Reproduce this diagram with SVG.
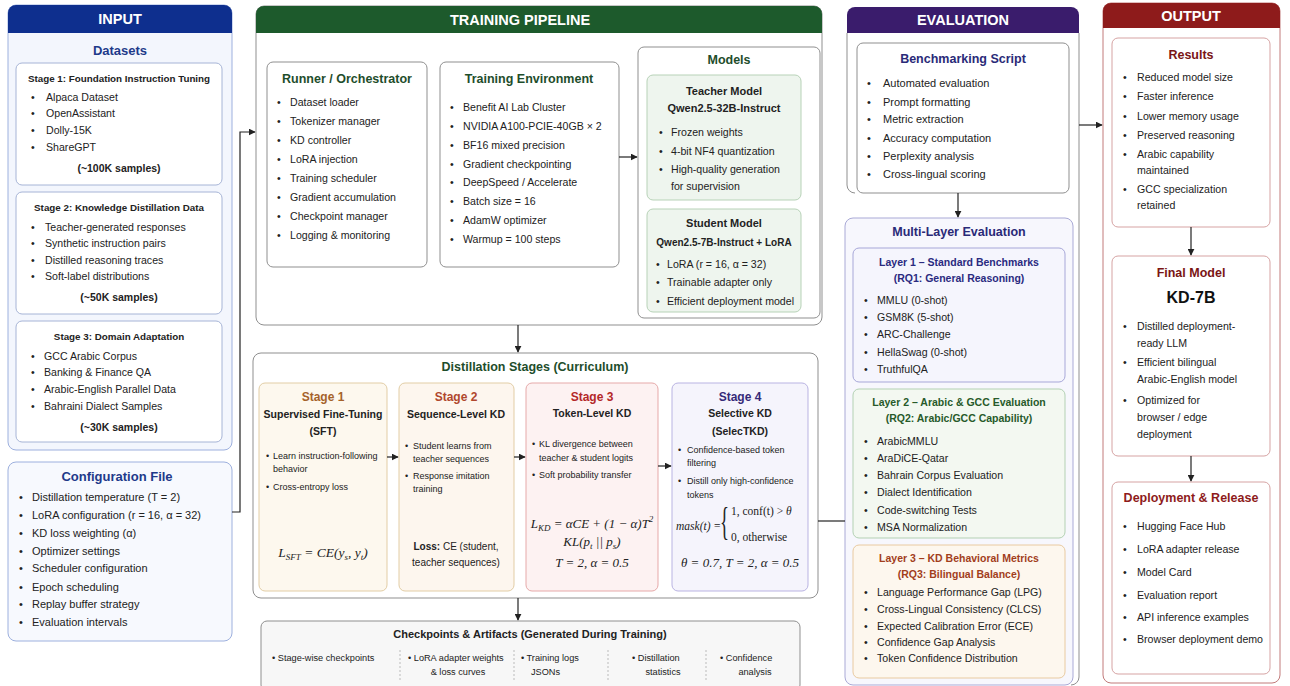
<svg xmlns="http://www.w3.org/2000/svg" width="1290" height="686" viewBox="0 0 1290 686">
<defs>
<marker id="ah" viewBox="0 0 10 10" refX="9" refY="5" markerWidth="7" markerHeight="7" orient="auto" markerUnits="userSpaceOnUse"><path d="M0,0 L10,5 L0,10 z" fill="#222"/></marker>
<style>
text{font-family:'Liberation Sans',Arial,sans-serif;fill:#222}
.hd{font-size:14.5px;font-weight:700;fill:#fff;text-anchor:middle}
.st{font-size:12.5px;font-weight:700;text-anchor:middle}
.sb{font-size:10px;font-weight:700;text-anchor:middle}
.b{font-size:10.6px}
.bc{font-size:11px}
.s{font-size:9px}
.k{font-size:9.2px}
.c{text-anchor:middle}
.m{font-family:'Liberation Serif','DejaVu Serif',serif;font-style:italic;font-size:13.5px}
.mu{font-family:'Liberation Serif','DejaVu Serif',serif;font-size:12.5px}
.bx{fill:#fff;stroke:#8f8f8f;stroke-width:1}
.conn{fill:none;stroke:#222;stroke-width:1.2}
.sep{stroke:#bbb;stroke-width:1;stroke-dasharray:2 2}
</style>
</defs>
<rect width="1290" height="686" fill="#fff"/>

<!-- INPUT -->
<g id="input-panel">
<rect x="8" y="5" width="224" height="445" rx="8" fill="#f3f6fd" stroke="#9db0de"/>
<path d="M8,33 V13 a8,8 0 0 1 8,-8 H224 a8,8 0 0 1 8,8 V33 z" fill="#0e2f8e"/>
<text class="hd" x="120" y="24">INPUT</text>
<text class="st" x="120" y="55" style="font-size:13px;fill:#1e3a8a">Datasets</text>
</g>
<g id="stage1-data">
<rect x="16" y="63" width="206" height="122" rx="6" fill="#fff" stroke="#a6b4d6"/>
<text class="sb" x="119" y="82" style="font-size:9.8px">Stage 1: Foundation Instruction Tuning</text>
<text class="b" x="31" y="101">•<tspan x="46">Alpaca Dataset</tspan></text>
<text class="b" x="31" y="117">•<tspan x="46">OpenAssistant</tspan></text>
<text class="b" x="31" y="134">•<tspan x="46">Dolly-15K</tspan></text>
<text class="b" x="31" y="151">•<tspan x="46">ShareGPT</tspan></text>
<text class="sb" x="119" y="172" style="font-size:10.5px">(~100K samples)</text>
</g>
<g id="stage2-data">
<rect x="16" y="192" width="206" height="122" rx="6" fill="#fff" stroke="#a6b4d6"/>
<text class="sb" x="119" y="211" style="font-size:9.8px">Stage 2: Knowledge Distillation Data</text>
<text class="b" x="31" y="231">•<tspan x="45">Teacher-generated responses</tspan></text>
<text class="b" x="31" y="247">•<tspan x="45">Synthetic instruction pairs</tspan></text>
<text class="b" x="31" y="264">•<tspan x="45">Distilled reasoning traces</tspan></text>
<text class="b" x="31" y="280">•<tspan x="45">Soft-label distributions</tspan></text>
<text class="sb" x="119" y="301" style="font-size:10.5px">(~50K samples)</text>
</g>
<g id="stage3-data">
<rect x="16" y="321" width="206" height="121" rx="6" fill="#fff" stroke="#a6b4d6"/>
<text class="sb" x="119" y="340" style="font-size:9.8px">Stage 3: Domain Adaptation</text>
<text class="b" x="31" y="360">•<tspan x="44">GCC Arabic Corpus</tspan></text>
<text class="b" x="31" y="376">•<tspan x="44">Banking &amp; Finance QA</tspan></text>
<text class="b" x="31" y="393">•<tspan x="44">Arabic-English Parallel Data</tspan></text>
<text class="b" x="31" y="410">•<tspan x="44">Bahraini Dialect Samples</tspan></text>
<text class="sb" x="119" y="431" style="font-size:10.5px">(~30K samples)</text>
</g>
<g id="config">
<rect x="8" y="462" width="224" height="179" rx="8" fill="#f7f9fe" stroke="#9db0de"/>
<text class="st" x="117" y="481" style="font-size:13px;fill:#1e3a8a">Configuration File</text>
<text class="bc" x="19" y="501">•<tspan x="32">Distillation temperature (T = 2)</tspan></text>
<text class="bc" x="19" y="519">•<tspan x="32">LoRA configuration (r = 16, α = 32)</tspan></text>
<text class="bc" x="19" y="537">•<tspan x="32">KD loss weighting (α)</tspan></text>
<text class="bc" x="19" y="555">•<tspan x="32">Optimizer settings</tspan></text>
<text class="bc" x="19" y="572">•<tspan x="32">Scheduler configuration</tspan></text>
<text class="bc" x="19" y="591">•<tspan x="32">Epoch scheduling</tspan></text>
<text class="bc" x="19" y="608">•<tspan x="32">Replay buffer strategy</tspan></text>
<text class="bc" x="19" y="626">•<tspan x="32">Evaluation intervals</tspan></text>
</g>

<!-- TRAINING PIPELINE -->
<g id="training-pipeline">
<rect x="256" y="6" width="566" height="319" rx="8" class="bx"/>
<path d="M256,33 V14 a8,8 0 0 1 8,-8 H814 a8,8 0 0 1 8,8 V33 z" fill="#1d5a2c"/>
<text class="hd" x="520" y="25">TRAINING PIPELINE</text>
</g>
<g id="runner">
<rect x="267" y="62" width="160" height="205" rx="6" class="bx"/>
<text class="st" x="347" y="83" style="fill:#1e4d2b">Runner / Orchestrator</text>
<text class="b" x="277" y="106">•<tspan x="290">Dataset loader</tspan></text>
<text class="b" x="277" y="125">•<tspan x="290">Tokenizer manager</tspan></text>
<text class="b" x="277" y="144">•<tspan x="290">KD controller</tspan></text>
<text class="b" x="277" y="163">•<tspan x="290">LoRA injection</tspan></text>
<text class="b" x="277" y="182">•<tspan x="290">Training scheduler</tspan></text>
<text class="b" x="277" y="201">•<tspan x="290">Gradient accumulation</tspan></text>
<text class="b" x="277" y="220">•<tspan x="290">Checkpoint manager</tspan></text>
<text class="b" x="277" y="239">•<tspan x="290">Logging &amp; monitoring</tspan></text>
</g>
<g id="training-env">
<rect x="440" y="62" width="179" height="205" rx="6" class="bx"/>
<text class="st" x="529" y="83" style="fill:#1e4d2b">Training Environment</text>
<text class="b" x="450" y="111">•<tspan x="463">Benefit AI Lab Cluster</tspan></text>
<text class="b" x="450" y="130">•<tspan x="463">NVIDIA A100-PCIE-40GB × 2</tspan></text>
<text class="b" x="450" y="149">•<tspan x="463">BF16 mixed precision</tspan></text>
<text class="b" x="450" y="168">•<tspan x="463">Gradient checkpointing</tspan></text>
<text class="b" x="450" y="186">•<tspan x="463">DeepSpeed / Accelerate</tspan></text>
<text class="b" x="450" y="205">•<tspan x="463">Batch size = 16</tspan></text>
<text class="b" x="450" y="224">•<tspan x="463">AdamW optimizer</tspan></text>
<text class="b" x="450" y="243">•<tspan x="463">Warmup = 100 steps</tspan></text>
</g>
<g id="models">
<rect x="638" y="47" width="182" height="271" rx="6" class="bx"/>
<text class="st" x="729" y="64" style="fill:#1e4d2b">Models</text>
<rect x="647" y="75" width="154" height="125" rx="6" fill="#eef5ee" stroke="#b7d2b7"/>
<text class="sb" x="724" y="95" style="font-size:11px">Teacher Model</text>
<text class="sb" x="724" y="112" style="font-size:11px">Qwen2.5-32B-Instruct</text>
<text class="b" x="659" y="136">•<tspan x="671">Frozen weights</tspan></text>
<text class="b" x="659" y="155">•<tspan x="671">4-bit NF4 quantization</tspan></text>
<text class="b" x="659" y="173">•<tspan x="671">High-quality generation</tspan></text>
<text class="b" x="671" y="190">for supervision</text>
<rect x="647" y="209" width="154" height="103" rx="6" fill="#eef5ee" stroke="#b7d2b7"/>
<text class="sb" x="724" y="227" style="font-size:11px">Student Model</text>
<text class="sb" x="724" y="246">Qwen2.5-7B-Instruct + LoRA</text>
<text class="b" x="656" y="268">•<tspan x="667">LoRA (r = 16, α = 32)</tspan></text>
<text class="b" x="656" y="286">•<tspan x="667">Trainable adapter only</tspan></text>
<text class="b" x="656" y="305">•<tspan x="667">Efficient deployment model</tspan></text>
</g>

<!-- DISTILLATION STAGES -->
<g id="distillation-stages">
<rect x="253" y="353" width="565" height="245" rx="8" class="bx"/>
<text class="st" x="535" y="371" style="fill:#1e4d2b">Distillation Stages (Curriculum)</text>
</g>
<g id="stage-1">
<rect x="259" y="383" width="128" height="208" rx="6" fill="#fdf8ee" stroke="#e2cda5"/>
<text class="st" x="323" y="401" style="fill:#a5622a;font-size:12px">Stage 1</text>
<text class="sb" x="323" y="418" style="font-size:10.5px">Supervised Fine-Tuning</text>
<text class="sb" x="323" y="435" style="font-size:10.5px">(SFT)</text>
<text class="s" x="266" y="459">•<tspan x="273">Learn instruction-following</tspan></text>
<text class="s" x="273" y="472">behavior</text>
<text class="s" x="266" y="490">•<tspan x="273">Cross-entropy loss</tspan></text>
<text class="m" x="323" y="557" text-anchor="middle">L<tspan font-size="9" dy="3">SFT</tspan><tspan dy="-3"> = CE(y</tspan><tspan font-size="9" dy="3">s</tspan><tspan dy="-3">, y</tspan><tspan font-size="9" dy="3">t</tspan><tspan dy="-3">)</tspan></text>
</g>
<g id="stage-2">
<rect x="399" y="383" width="115" height="208" rx="6" fill="#fdf6ee" stroke="#e2cda5"/>
<text class="st" x="456" y="401" style="fill:#b0472d;font-size:12px">Stage 2</text>
<text class="sb" x="456" y="418" style="font-size:10.5px">Sequence-Level KD</text>
<text class="s" x="405" y="449">•<tspan x="413">Student learns from</tspan></text>
<text class="s" x="413" y="462">teacher sequences</text>
<text class="s" x="405" y="479">•<tspan x="413">Response imitation</tspan></text>
<text class="s" x="413" y="492">training</text>
<text x="456" y="550" class="c" style="font-size:10px"><tspan font-weight="700">Loss:</tspan> CE (student,</text>
<text x="456" y="566" class="c" style="font-size:10px">teacher sequences)</text>
</g>
<g id="stage-3">
<rect x="526" y="383" width="132" height="208" rx="6" fill="#fdf2f2" stroke="#e6a9a9"/>
<text class="st" x="592" y="401" style="fill:#b42828;font-size:12px">Stage 3</text>
<text class="sb" x="592" y="417" style="font-size:10.5px">Token-Level KD</text>
<text class="s" x="532" y="447">•<tspan x="539">KL divergence between</tspan></text>
<text class="s" x="539" y="461">teacher &amp; student logits</text>
<text class="s" x="532" y="478">•<tspan x="539">Soft probability transfer</tspan></text>
<text class="m" x="592" y="528" text-anchor="middle" style="font-size:13px">L<tspan font-size="9" dy="3">KD</tspan><tspan dy="-3"> = αCE + (1 − α)T</tspan><tspan font-size="9" dy="-6">2</tspan></text>
<text class="m" x="592" y="546" text-anchor="middle" style="font-size:13px">KL(p<tspan font-size="9" dy="3">t</tspan><tspan dy="-3"> || p</tspan><tspan font-size="9" dy="3">s</tspan><tspan dy="-3">)</tspan></text>
<text class="m" x="592" y="567" text-anchor="middle" style="font-size:13px">T = 2, α = 0.5</text>
</g>
<g id="stage-4">
<rect x="672" y="383" width="136" height="208" rx="6" fill="#f5f4fc" stroke="#b9b3e2"/>
<text class="st" x="740" y="401" style="fill:#352a78;font-size:12px">Stage 4</text>
<text class="sb" x="740" y="417" style="font-size:10.5px">Selective KD</text>
<text class="sb" x="740" y="435" style="font-size:10.5px">(SelecTKD)</text>
<text class="s" x="678" y="453">•<tspan x="687">Confidence-based token</tspan></text>
<text class="s" x="687" y="466">filtering</text>
<text class="s" x="678" y="484">•<tspan x="687">Distill only high-confidence</tspan></text>
<text class="s" x="687" y="498">tokens</text>
<text class="m" x="676" y="530" style="font-size:11.5px">mask(t) =</text>
<text class="mu" transform="translate(720,535) scale(0.55,1.15)" style="font-size:34px">{</text>
<text class="mu" x="731" y="515" style="font-size:11.5px">1,  conf(t) &gt; <tspan font-style="italic">θ</tspan></text>
<text class="mu" x="731" y="541" style="font-size:11.5px">0,  otherwise</text>
<text class="m" x="740" y="567" text-anchor="middle" style="font-size:13px">θ = 0.7,  T = 2,  α = 0.5</text>
</g>

<!-- CHECKPOINTS -->
<g id="checkpoints">
<rect x="261" y="621" width="539" height="70" rx="6" fill="#f7f7f7" stroke="#8f8f8f"/>
<text x="530" y="638" class="c" style="font-size:11px;font-weight:700">Checkpoints &amp; Artifacts (Generated During Training)</text>
<text class="k" x="272" y="661">•  Stage-wise checkpoints</text>
<line class="sep" x1="400" y1="650" x2="400" y2="680"/>
<text class="k" x="408" y="661">•  LoRA adapter weights</text>
<text class="k c" x="458" y="675">&amp; loss curves</text>
<line class="sep" x1="514" y1="650" x2="514" y2="680"/>
<text class="k" x="521" y="661">•  Training logs</text>
<text class="k" x="531" y="675">JSONs</text>
<line class="sep" x1="608" y1="650" x2="608" y2="680"/>
<text class="k" x="632" y="661">•  Distillation</text>
<text class="k c" x="663" y="675">statistics</text>
<line class="sep" x1="706" y1="650" x2="706" y2="680"/>
<text class="k" x="720" y="661">•  Confidence</text>
<text class="k c" x="755" y="675">analysis</text>
</g>

<!-- EVALUATION -->
<g id="evaluation-panel">
<path d="M847,33 V185 a8,8 0 0 0 8,8" fill="none" stroke="#8f8f8f"/>
<path d="M1079,33 V677 a8,8 0 0 1 -8,8" fill="none" stroke="#8f8f8f"/>
<path d="M847,33 V15 a8,8 0 0 1 8,-8 H1071 a8,8 0 0 1 8,8 V33 z" fill="#3a1c6c"/>
<text class="hd" x="963" y="25">EVALUATION</text>
</g>
<g id="benchmarking">
<rect x="857" y="43" width="212" height="150" rx="6" class="bx"/>
<text class="st" x="963" y="63" style="fill:#2a2a78">Benchmarking Script</text>
<text class="bc" x="867" y="87">•<tspan x="883">Automated evaluation</tspan></text>
<text class="bc" x="867" y="106">•<tspan x="883">Prompt formatting</tspan></text>
<text class="bc" x="867" y="123">•<tspan x="883">Metric extraction</tspan></text>
<text class="bc" x="867" y="142">•<tspan x="883">Accuracy computation</tspan></text>
<text class="bc" x="867" y="160">•<tspan x="883">Perplexity analysis</tspan></text>
<text class="bc" x="867" y="178">•<tspan x="883">Cross-lingual scoring</tspan></text>
</g>
<g id="multi-layer">
<rect x="845" y="218" width="228" height="467" rx="8" fill="#f7f7fd" stroke="#a9a9d6"/>
<text class="st" x="959" y="236" style="fill:#2a2a78">Multi-Layer Evaluation</text>
</g>
<g id="layer-1">
<rect x="853" y="248" width="212" height="134" rx="6" fill="#f5f5fd" stroke="#a7a7d8"/>
<text class="sb" x="959" y="266" style="font-size:10.5px;fill:#2a2a80">Layer 1 – Standard Benchmarks</text>
<text class="sb" x="959" y="282" style="font-size:10.5px;fill:#2a2a80">(RQ1: General Reasoning)</text>
<text class="b" x="864" y="304">•<tspan x="877">MMLU (0-shot)</tspan></text>
<text class="b" x="864" y="321">•<tspan x="877">GSM8K (5-shot)</tspan></text>
<text class="b" x="864" y="338">•<tspan x="877">ARC-Challenge</tspan></text>
<text class="b" x="864" y="356">•<tspan x="877">HellaSwag (0-shot)</tspan></text>
<text class="b" x="864" y="373">•<tspan x="877">TruthfulQA</tspan></text>
</g>
<g id="layer-2">
<rect x="853" y="389" width="212" height="149" rx="6" fill="#f3f8f1" stroke="#b3d1b3"/>
<text class="sb" x="959" y="406" style="font-size:10.5px;fill:#275a2a">Layer 2 – Arabic &amp; GCC Evaluation</text>
<text class="sb" x="959" y="422" style="font-size:10.5px;fill:#275a2a">(RQ2: Arabic/GCC Capability)</text>
<text class="b" x="864" y="445">•<tspan x="877">ArabicMMLU</tspan></text>
<text class="b" x="864" y="462">•<tspan x="877">AraDiCE-Qatar</tspan></text>
<text class="b" x="864" y="479">•<tspan x="877">Bahrain Corpus Evaluation</tspan></text>
<text class="b" x="864" y="496">•<tspan x="877">Dialect Identification</tspan></text>
<text class="b" x="864" y="514">•<tspan x="877">Code-switching Tests</tspan></text>
<text class="b" x="864" y="531">•<tspan x="877">MSA Normalization</tspan></text>
</g>
<g id="layer-3">
<rect x="853" y="545" width="212" height="133" rx="6" fill="#fdf7ee" stroke="#e9caa0"/>
<text class="sb" x="959" y="562" style="font-size:10.5px;fill:#a23e1c">Layer 3 – KD Behavioral Metrics</text>
<text class="sb" x="959" y="578" style="font-size:10.5px;fill:#a23e1c">(RQ3: Bilingual Balance)</text>
<text class="b" x="864" y="596">•<tspan x="877">Language Performance Gap (LPG)</tspan></text>
<text class="b" x="864" y="613">•<tspan x="877">Cross-Lingual Consistency (CLCS)</tspan></text>
<text class="b" x="864" y="630">•<tspan x="877">Expected Calibration Error (ECE)</tspan></text>
<text class="b" x="864" y="646">•<tspan x="877">Confidence Gap Analysis</tspan></text>
<text class="b" x="864" y="662">•<tspan x="877">Token Confidence Distribution</tspan></text>
</g>

<!-- OUTPUT -->
<g id="output-panel">
<rect x="1103" y="3" width="177" height="680" rx="8" fill="#fff" stroke="#c27a7a"/>
<path d="M1103,28 V11 a8,8 0 0 1 8,-8 H1272 a8,8 0 0 1 8,8 V28 z" fill="#8e1b1b"/>
<text class="hd" x="1191" y="21">OUTPUT</text>
</g>
<g id="results">
<rect x="1112" y="38" width="158" height="189" rx="6" fill="#fff" stroke="#d6a3a3"/>
<text class="st" x="1191" y="59" style="fill:#7a1515">Results</text>
<text class="b" x="1123" y="81">•<tspan x="1137">Reduced model size</tspan></text>
<text class="b" x="1123" y="100">•<tspan x="1137">Faster inference</tspan></text>
<text class="b" x="1123" y="120">•<tspan x="1137">Lower memory usage</tspan></text>
<text class="b" x="1123" y="139">•<tspan x="1137">Preserved reasoning</tspan></text>
<text class="b" x="1123" y="158">•<tspan x="1137">Arabic capability</tspan></text>
<text class="b" x="1137" y="174">maintained</text>
<text class="b" x="1123" y="193">•<tspan x="1137">GCC specialization</tspan></text>
<text class="b" x="1137" y="209">retained</text>
</g>
<g id="final-model">
<rect x="1112" y="256" width="158" height="200" rx="6" fill="#fff" stroke="#d6a3a3"/>
<text class="st" x="1191" y="277" style="fill:#7a1515">Final Model</text>
<text class="st" x="1191" y="303" style="font-size:16px;fill:#111">KD-7B</text>
<text class="b" x="1123" y="330">•<tspan x="1137">Distilled deployment-</tspan></text>
<text class="b" x="1137" y="347">ready LLM</text>
<text class="b" x="1123" y="366">•<tspan x="1137">Efficient bilingual</tspan></text>
<text class="b" x="1137" y="383">Arabic-English model</text>
<text class="b" x="1123" y="404">•<tspan x="1137">Optimized for</tspan></text>
<text class="b" x="1137" y="421">browser / edge</text>
<text class="b" x="1137" y="438">deployment</text>
</g>
<g id="deployment">
<rect x="1112" y="482" width="158" height="192" rx="6" fill="#fff" stroke="#d6a3a3"/>
<text class="st" x="1191" y="502" style="fill:#8e1b1b">Deployment &amp; Release</text>
<text class="b" x="1123" y="530">•<tspan x="1137">Hugging Face Hub</tspan></text>
<text class="b" x="1123" y="553">•<tspan x="1137">LoRA adapter release</tspan></text>
<text class="b" x="1123" y="576">•<tspan x="1137">Model Card</tspan></text>
<text class="b" x="1123" y="599">•<tspan x="1137">Evaluation report</tspan></text>
<text class="b" x="1123" y="621">•<tspan x="1137">API inference examples</tspan></text>
<text class="b" x="1123" y="643">•<tspan x="1137">Browser deployment demo</tspan></text>
</g>

<!-- CONNECTORS -->
<g id="connectors">
<path class="conn" d="M232,512 H240 V132 H255" marker-end="url(#ah)"/>
<path class="conn" d="M619,157 H637" marker-end="url(#ah)"/>
<path class="conn" d="M518,325 V352" marker-end="url(#ah)"/>
<path class="conn" d="M387,457 H398" marker-end="url(#ah)"/>
<path class="conn" d="M514,457 H525" marker-end="url(#ah)"/>
<path class="conn" d="M658,466 H671" marker-end="url(#ah)"/>
<path class="conn" d="M518,598 V620" marker-end="url(#ah)"/>
<path class="conn" d="M818,521 H845"/>
<path class="conn" d="M958,193 V217" marker-end="url(#ah)"/>
<path class="conn" d="M1079,125 H1102" marker-end="url(#ah)"/>
<path class="conn" d="M1191,227 V255" marker-end="url(#ah)"/>
<path class="conn" d="M1191,456 V481" marker-end="url(#ah)"/>
</g>
</svg>
